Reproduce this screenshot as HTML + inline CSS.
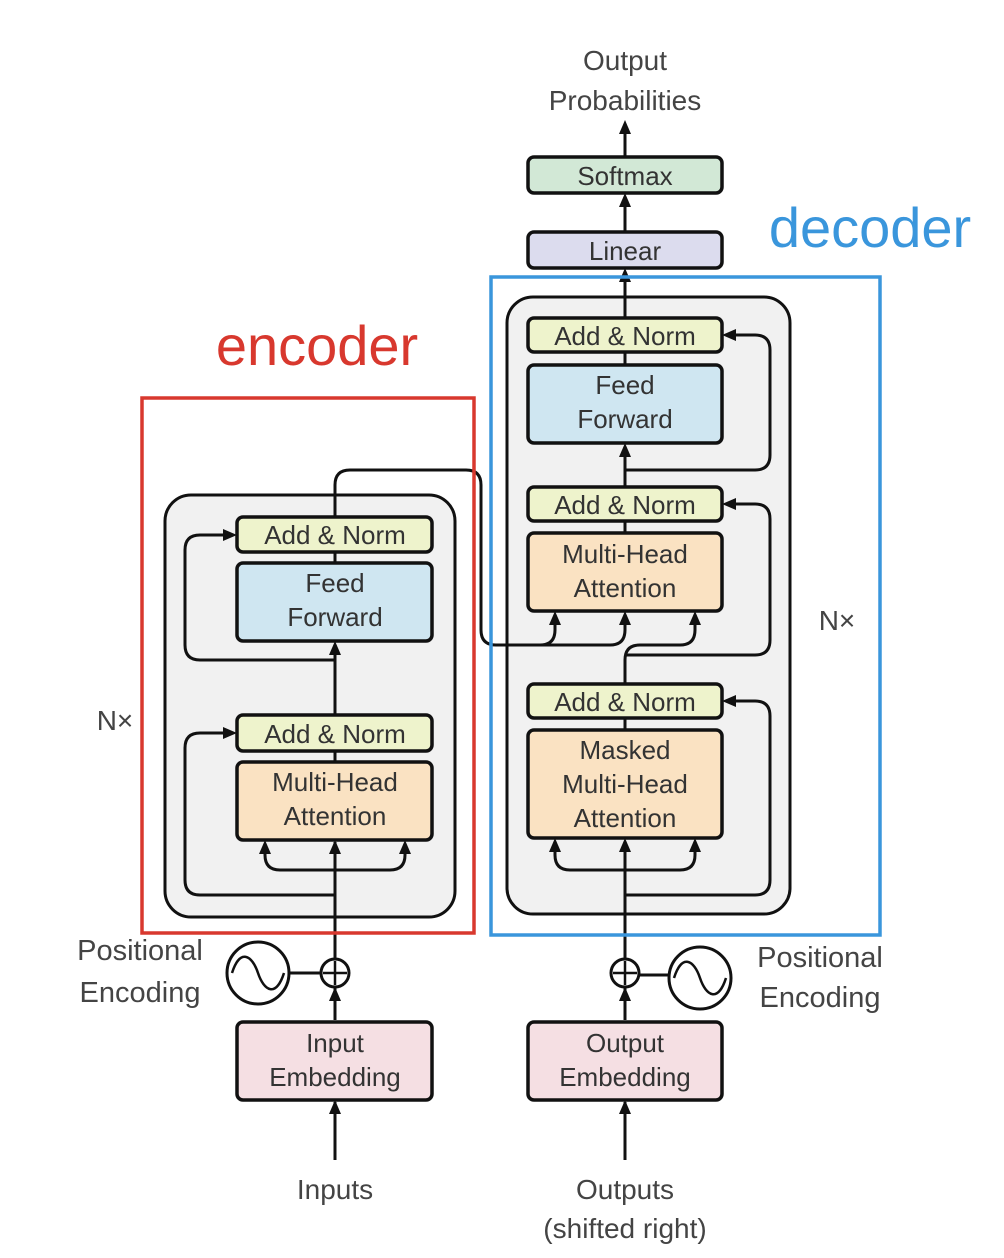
<!DOCTYPE html>
<html><head><meta charset="utf-8"><style>
html,body{margin:0;padding:0;background:#fff;}
svg{display:block;}
text{font-family:"Liberation Sans",sans-serif;fill:#333;}
</style></head><body>
<svg width="1004" height="1258" viewBox="0 0 1004 1258" xmlns="http://www.w3.org/2000/svg">
<defs>
<marker id="a" viewBox="0 0 10 10" refX="9" refY="5" markerWidth="5" markerHeight="5" orient="auto-start-reverse" markerUnits="userSpaceOnUse">
</marker>
</defs>
<style>
.b{stroke:#111;stroke-width:3.5;}
.l{fill:none;stroke:#111;stroke-width:3;}
.t{font-size:26px;text-anchor:middle;}
</style>
<!-- gray stacks -->
<rect x="165" y="495" width="290" height="422" rx="26" fill="#f1f1f1" stroke="#111" stroke-width="3"/>
<rect x="507" y="297" width="283" height="617" rx="26" fill="#f1f1f1" stroke="#111" stroke-width="3"/>

<!-- encoder lines -->
<path class="l" d="M335 1160 V1102"/>
<path class="l" d="M335 1020 V988"/>
<path class="l" d="M335 959 V842"/>
<path class="l" d="M335 895 H200 Q185 895 185 880 V748 Q185 733 200 733 H232"/>
<path class="l" d="M335 870 H280 Q265 870 265 855 V844"/>
<path class="l" d="M335 870 H390 Q405 870 405 855 V844"/>
<path class="l" d="M335 762 V751"/>
<path class="l" d="M335 715 V645"/>
<path class="l" d="M335 660 H200 Q185 660 185 645 V550 Q185 535 200 535 H232"/>
<path class="l" d="M335 563 V552"/>
<path class="l" d="M335 517 V485 Q335 470 350 470 H466 Q481 470 481 485 V630 Q481 645 496 645 H540 Q555 645 555 630 V615"/>
<path class="l" d="M540 645 H610 Q625 645 625 630 V615"/>

<!-- decoder lines -->
<path class="l" d="M625 1160 V1102"/>
<path class="l" d="M625 1020 V988"/>
<path class="l" d="M625 959 V842"/>
<path class="l" d="M625 895 H755 Q770 895 770 880 V716 Q770 701 755 701 H727"/>
<path class="l" d="M625 870 H570 Q555 870 555 855 V842"/>
<path class="l" d="M625 870 H680 Q695 870 695 855 V842"/>
<path class="l" d="M625 730 V718"/>
<path class="l" d="M625 684 V660 Q625 645 640 645 H680 Q695 645 695 630 V615"/>
<path class="l" d="M625 655 H755 Q770 655 770 640 V519 Q770 504 755 504 H727"/>
<path class="l" d="M625 533 V521"/>
<path class="l" d="M625 487 V447"/>
<path class="l" d="M625 470 H755 Q770 470 770 455 V350 Q770 335 755 335 H727"/>
<path class="l" d="M625 365 V352"/>
<path class="l" d="M625 318 V272"/>
<path class="l" d="M625 232 V197"/>
<path class="l" d="M625 157 V124"/>

<!-- arrowheads -->
<g fill="#111">
<path d="M335 1100 l-6 14 h12z"/>
<path d="M335 987 l-6 14 h12z"/>
<path d="M335 840 l-6 14 h12z"/>
<path d="M265 840 l-6 14 h12z"/>
<path d="M405 840 l-6 14 h12z"/>
<path d="M237 733 l-14 -6 v12z"/>
<path d="M335 641 l-6 14 h12z"/>
<path d="M237 535 l-14 -6 v12z"/>
<path d="M555 611 l-6 14 h12z"/>
<path d="M625 611 l-6 14 h12z"/>
<path d="M695 611 l-6 14 h12z"/>
<path d="M625 1100 l-6 14 h12z"/>
<path d="M625 987 l-6 14 h12z"/>
<path d="M625 838 l-6 14 h12z"/>
<path d="M555 838 l-6 14 h12z"/>
<path d="M695 838 l-6 14 h12z"/>
<path d="M722 701 l14 -6 v12z"/>
<path d="M722 504 l14 -6 v12z"/>
<path d="M625 443 l-6 14 h12z"/>
<path d="M722 335 l14 -6 v12z"/>
<path d="M625 268 l-6 14 h12z"/>
<path d="M625 193 l-6 14 h12z"/>
<path d="M625 120 l-6 14 h12z"/>
</g>

<!-- encoder boxes -->
<rect class="b" x="237" y="517" width="195" height="35" rx="6" fill="#eef3cc"/>
<text class="t" x="335" y="544">Add &amp; Norm</text>
<rect class="b" x="237" y="563" width="195" height="78" rx="6" fill="#cfe6f1"/>
<text class="t" x="335" y="592">Feed</text><text class="t" x="335" y="626">Forward</text>
<rect class="b" x="237" y="715" width="195" height="36" rx="6" fill="#eef3cc"/>
<text class="t" x="335" y="743">Add &amp; Norm</text>
<rect class="b" x="237" y="762" width="195" height="78" rx="6" fill="#fae2c2"/>
<text class="t" x="335" y="791">Multi-Head</text><text class="t" x="335" y="825">Attention</text>
<rect class="b" x="237" y="1022" width="195" height="78" rx="6" fill="#f5dfe3"/>
<text class="t" x="335" y="1052">Input</text><text class="t" x="335" y="1086">Embedding</text>

<!-- decoder boxes -->
<rect class="b" x="528" y="318" width="194" height="34" rx="6" fill="#eef3cc"/>
<text class="t" x="625" y="345">Add &amp; Norm</text>
<rect class="b" x="528" y="365" width="194" height="78" rx="6" fill="#cfe6f1"/>
<text class="t" x="625" y="394">Feed</text><text class="t" x="625" y="428">Forward</text>
<rect class="b" x="528" y="487" width="194" height="34" rx="6" fill="#eef3cc"/>
<text class="t" x="625" y="514">Add &amp; Norm</text>
<rect class="b" x="528" y="533" width="194" height="78" rx="6" fill="#fae2c2"/>
<text class="t" x="625" y="563">Multi-Head</text><text class="t" x="625" y="597">Attention</text>
<rect class="b" x="528" y="684" width="194" height="34" rx="6" fill="#eef3cc"/>
<text class="t" x="625" y="711">Add &amp; Norm</text>
<rect class="b" x="528" y="730" width="194" height="108" rx="6" fill="#fae2c2"/>
<text class="t" x="625" y="759">Masked</text><text class="t" x="625" y="793">Multi-Head</text><text class="t" x="625" y="827">Attention</text>
<rect class="b" x="528" y="1022" width="194" height="78" rx="6" fill="#f5dfe3"/>
<text class="t" x="625" y="1052">Output</text><text class="t" x="625" y="1086">Embedding</text>
<rect class="b" x="528" y="232" width="194" height="36" rx="6" fill="#dcdcee"/>
<text class="t" x="625" y="260">Linear</text>
<rect class="b" x="528" y="157" width="194" height="36" rx="6" fill="#d2e8d6"/>
<text class="t" x="625" y="185">Softmax</text>

<!-- positional encodings -->
<line x1="289" y1="973" x2="321" y2="973" stroke="#111" stroke-width="3"/>
<circle cx="258" cy="973" r="31" fill="#fff" stroke="#111" stroke-width="3"/>
<path d="M232 973 C240 948 252 955 258 973 C264 991 276 998 284 973" fill="none" stroke="#111" stroke-width="2.5"/>
<circle cx="335" cy="973" r="14" fill="#fff" stroke="#111" stroke-width="3"/>
<path d="M335 961 V985 M323 973 H347" stroke="#111" stroke-width="2.5"/>

<line x1="639" y1="975" x2="670" y2="975" stroke="#111" stroke-width="3"/>
<circle cx="700" cy="978" r="31" fill="#fff" stroke="#111" stroke-width="3"/>
<path d="M674 978 C682 953 694 960 700 978 C706 996 718 1003 726 978" fill="none" stroke="#111" stroke-width="2.5"/>
<circle cx="625" cy="973" r="14" fill="#fff" stroke="#111" stroke-width="3"/>
<path d="M625 961 V985 M613 973 H637" stroke="#111" stroke-width="2.5"/>

<!-- labels -->
<text x="140" y="960" style="font-size:29px;text-anchor:middle;fill:#444">Positional</text>
<text x="140" y="1002" style="font-size:29px;text-anchor:middle;fill:#444">Encoding</text>
<text x="820" y="967" style="font-size:29px;text-anchor:middle;fill:#444">Positional</text>
<text x="820" y="1007" style="font-size:29px;text-anchor:middle;fill:#444">Encoding</text>
<text x="335" y="1199" style="font-size:28px;text-anchor:middle;fill:#444">Inputs</text>
<text x="625" y="1199" style="font-size:28px;text-anchor:middle;fill:#444">Outputs</text>
<text x="625" y="1238" style="font-size:28px;text-anchor:middle;fill:#444">(shifted right)</text>
<text x="625" y="70" style="font-size:28px;text-anchor:middle;fill:#444">Output</text>
<text x="625" y="110" style="font-size:28px;text-anchor:middle;fill:#444">Probabilities</text>
<text x="115" y="730" style="font-size:28px;text-anchor:middle;fill:#444">N×</text>
<text x="837" y="630" style="font-size:28px;text-anchor:middle;fill:#444">N×</text>

<!-- highlight boxes -->
<rect x="142" y="398" width="332" height="535" fill="none" stroke="#d8382e" stroke-width="3.5"/>
<rect x="491" y="277" width="389" height="658" fill="none" stroke="#3a96dc" stroke-width="3.5"/>
<text x="317" y="365" style="font-size:56px;text-anchor:middle;fill:#d8382e">encoder</text>
<text x="870" y="247" style="font-size:56px;text-anchor:middle;fill:#3a96dc">decoder</text>
</svg>
</body></html>
